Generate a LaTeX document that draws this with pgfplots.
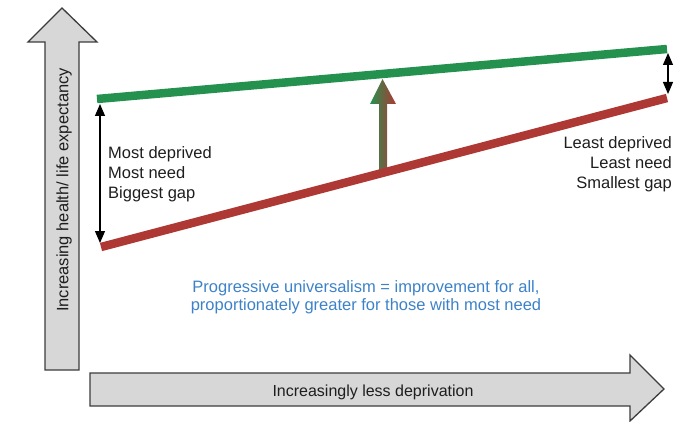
\documentclass[border=0pt]{standalone}
\usepackage{fontspec}
\setmainfont{Liberation Sans}
\usepackage{pgfplots}
\pgfplotsset{compat=1.18}
\usetikzlibrary{arrows.meta}
\definecolor{lgreen}{HTML}{25914F}
\definecolor{lred}{HTML}{AE3833}
\definecolor{tblue}{HTML}{3D82C8}
\definecolor{agray}{HTML}{D7D7D7}
\definecolor{aedge}{HTML}{3C3C3C}
\definecolor{txt}{HTML}{1E1E1E}
\tikzset{lbl/.style={text=txt, inner sep=0pt, font=\fontsize{16.5bp}{19bp}\selectfont}}
\begin{document}
\begin{tikzpicture}
\begin{axis}[
  name=ax,
  width=692bp, height=422bp, scale only axis,
  xmin=0, xmax=692, ymin=0, ymax=422, y dir=reverse,
  hide axis, clip=false,
]
% big grey axis arrows
\filldraw[fill=agray, draw=aedge, line width=1.3bp, line join=miter]
  (axis cs:45,370) -- (axis cs:45,42) -- (axis cs:28,42) -- (axis cs:62,8)
  -- (axis cs:97,42) -- (axis cs:79,42) -- (axis cs:79,370) -- cycle;
\filldraw[fill=agray, draw=aedge, line width=1.3bp, line join=miter]
  (axis cs:90,373) -- (axis cs:630,373) -- (axis cs:630,355) -- (axis cs:664,389)
  -- (axis cs:630,421) -- (axis cs:630,406) -- (axis cs:90,406) -- cycle;
\node[lbl, rotate=90] at (axis cs:64,190) {Increasing health/ life expectancy};
\node[lbl, anchor=base, font=\fontsize{16bp}{19bp}\selectfont] at (axis cs:373,396) {Increasingly less deprivation};
% gradient improvement arrow
\shade[left color=lgreen, right color=lred, middle color=lgreen!50!lred]
  (axis cs:379,174) -- (axis cs:379,104) -- (axis cs:370,104) -- (axis cs:382.5,79)
  -- (axis cs:396,104) -- (axis cs:387,104) -- (axis cs:387,174) -- cycle;
% data lines
\addplot[lgreen, line width=8.5bp, line cap=butt] coordinates {(97,99) (667,49)};
\addplot[lred, line width=8.5bp, line cap=butt] coordinates {(101,247) (667,98)};
% gap arrows
\draw[black, line width=1.2bp, {Triangle[length=12bp,width=10bp]}-{Triangle[length=12bp,width=10bp]}]
  (axis cs:100,104) -- (axis cs:100,243);
\draw[black, line width=1.2bp, {Triangle[length=12bp,width=10bp]}-{Triangle[length=12bp,width=10bp]}]
  (axis cs:668,53) -- (axis cs:668,94);
% labels
\node[lbl, anchor=base west] at (axis cs:108,158) {Most deprived};
\node[lbl, anchor=base west] at (axis cs:108,178) {Most need};
\node[lbl, anchor=base west] at (axis cs:108,198) {Biggest gap};
\node[lbl, anchor=base east] at (axis cs:672,148) {Least deprived};
\node[lbl, anchor=base east] at (axis cs:672,168) {Least need};
\node[lbl, anchor=base east] at (axis cs:672,188) {Smallest gap};
\node[lbl, anchor=base, text=tblue] at (axis cs:366,292) {Progressive universalism = improvement for all,};
\node[lbl, anchor=base, text=tblue] at (axis cs:366,310) {proportionately greater for those with most need};
\end{axis}
\pgfresetboundingbox
\path (ax.south west) rectangle (ax.north east);
\end{tikzpicture}
\end{document}
